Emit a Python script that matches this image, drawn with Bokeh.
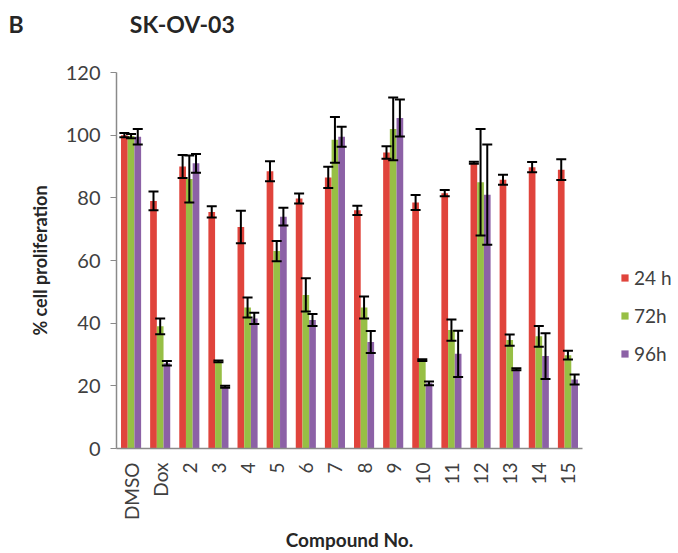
from math import pi
from bokeh.plotting import figure
from bokeh.models import (ColumnDataSource, FactorRange, Whisker, TeeHead, Legend,
                          LegendItem, FixedTicker, Range1d)
from bokeh.transform import dodge
from bokeh.embed import file_html
from bokeh.resources import INLINE

categories = ["DMSO", "Dox", "2", "3", "4", "5", "6", "7", "8", "9",
              "10", "11", "12", "13", "14", "15"]
h24 = [100, 79, 90, 75.5, 70.7, 88.5, 79.8, 86.5, 76, 94.5, 78.5, 81.5, 91.2, 85.8, 89.8, 89]
h24_err = [0.7, 3, 3.7, 1.8, 5.2, 3.2, 1.6, 3.4, 1.5, 2, 2.4, 1, 0.3, 1.6, 1.6, 3.3]
h72 = [99.7, 39, 86, 27.8, 45, 63, 49, 98.5, 45, 102, 28.2, 37.8, 85, 34.6, 35.8, 29.8]
h72_err = [0.7, 2.5, 7.5, 0.3, 3.2, 3.2, 5.3, 7.3, 3.5, 10, 0.3, 3.4, 17, 1.8, 3.3, 1.4]
h96 = [99.5, 27.2, 91, 19.7, 41.5, 74, 41, 99.5, 34, 105.5, 20.8, 30.2, 81, 25.3, 29.5, 22]
h96_err = [2.5, 0.7, 3, 0.3, 1.8, 2.8, 1.9, 3.2, 3.5, 5.9, 0.6, 7.4, 16, 0.3, 7.3, 1.6]
series_names = ["24 h", "72h", "96h"]
y_ticks = [0, 20, 40, 60, 80, 100, 120]
panel_letter = "B"
chart_title = "SK-OV-03"

colors = ["#E0443C", "#97BF45", "#8C61A6"]
FONT = "Lato"

p = figure(x_range=FactorRange(*categories, range_padding=0),
           y_range=Range1d(0, 120),
           frame_width=466, frame_height=376,
           output_backend="svg", toolbar_location=None)
p.min_border_left = 116
p.min_border_top = 72
p.min_border_right = 94
p.min_border_bottom = 103
p.outline_line_color = None
p.xgrid.grid_line_color = None
p.ygrid.grid_line_color = None
p.background_fill_color = "white"
p.border_fill_color = "white"

# title: panel letter and chart name on one line (blank second line lifts it up)
p.title.text = panel_letter + "\u00a0" * 19 + chart_title + "\n\u00a0"
p.title.align = "left"
p.title.vertical_align = "top"
p.title.offset = -108
p.title.text_font = FONT
p.title.text_font_style = "bold"
p.title.text_font_size = "23px"
p.title.text_color = "#262626"
p.title.standoff = 10

bw = 0.23
offsets = [-bw, 0, bw]
series = [(h24, h24_err), (h72, h72_err), (h96, h96_err)]
items = []
for (vals, errs), off, col, name in zip(series, offsets, colors, series_names):
    src = ColumnDataSource(dict(cat=categories, val=vals,
                                upper=[v + e for v, e in zip(vals, errs)],
                                lower=[v - e for v, e in zip(vals, errs)]))
    r = p.vbar(x=dodge("cat", off, range=p.x_range), top="val", width=bw,
               source=src, fill_color=col, line_color=None)
    items.append(LegendItem(label=name, renderers=[r]))
    w = Whisker(base=dodge("cat", off, range=p.x_range), upper="upper", lower="lower",
                source=src, line_color="black", line_width=2, level="overlay",
                upper_head=TeeHead(size=10, line_color="black", line_width=2),
                lower_head=TeeHead(size=10, line_color="black", line_width=2))
    p.add_layout(w)

# axes
for ax in (p.xaxis[0], p.yaxis[0]):
    ax.axis_line_color = "#8A8A8A"
    ax.axis_line_width = 1.5
    ax.minor_tick_line_color = None
    ax.major_label_text_font = FONT
    ax.major_label_text_color = "#404040"
    ax.axis_label_text_font = FONT
    ax.axis_label_text_font_style = "bold"
    ax.axis_label_text_color = "#262626"

p.yaxis.ticker = FixedTicker(ticks=y_ticks)
p.yaxis.major_tick_line_color = "#8A8A8A"
p.yaxis.major_tick_out = 6
p.yaxis.major_tick_in = 0
p.yaxis.major_label_text_font_size = "20px"
p.yaxis.major_label_standoff = 10
p.yaxis.axis_label = "% cell proliferation"
p.yaxis.axis_label_text_font_size = "18px"
p.yaxis.axis_label_standoff = 12

p.xaxis.major_tick_line_color = None
p.xaxis.major_label_orientation = pi / 2
p.xaxis.major_label_text_font_size = "19px"
p.xaxis.major_label_standoff = 8
p.xaxis.axis_label = "Compound No."
p.xaxis.axis_label_text_font_size = "19px"
p.xaxis.axis_label_standoff = 5

legend = Legend(items=items, location=(38, 83), background_fill_alpha=0,
                border_line_color=None, glyph_width=9, glyph_height=9,
                label_text_font=FONT, label_text_font_size="19px",
                label_text_color="#404040", label_standoff=5, spacing=15,
                label_height=20, padding=0, margin=0)
p.add_layout(legend, "right")

open("out.html", "w").write(file_html(p, INLINE))
